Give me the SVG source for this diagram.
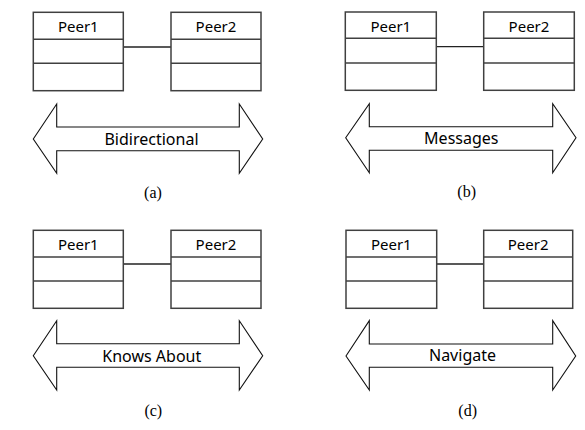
<svg xmlns="http://www.w3.org/2000/svg" width="585" height="430" viewBox="0 0 585 430">
<style>
.box{fill:#fff;stroke:#404040;stroke-width:1.5}
.div{stroke:#404040;stroke-width:1.5}
.link{stroke:#222;stroke-width:1.3;fill:none}
.arrow{fill:#fff;stroke:#111;stroke-width:1.1;stroke-linejoin:miter}
.peer{font-family:"Noto Sans","Open Sans","Liberation Sans",sans-serif;font-size:15px;fill:#000;text-anchor:middle}
.lbl{font-family:"Noto Sans","Open Sans","Liberation Sans",sans-serif;font-size:16px;fill:#000;text-anchor:middle}
.cap{font-family:"Liberation Serif","Times New Roman",serif;font-size:16px;fill:#000;text-anchor:middle}
</style>
<rect width="585" height="430" fill="#fff"/>

<g id="connectors">
<line class="link" x1="123.3" y1="47" x2="171" y2="47"/>
<line class="link" x1="436.3" y1="46.7" x2="483.7" y2="46.7"/>
<line class="link" x1="123.3" y1="264" x2="171" y2="264"/>
<line class="link" x1="436.7" y1="264" x2="483.7" y2="264"/>
</g>

<!-- Panel a -->
<g id="a-peer1">
<rect class="box" x="33.3" y="12.3" width="90" height="78.4"/>
<line class="div" x1="33.3" y1="39.3" x2="123.3" y2="39.3"/>
<line class="div" x1="33.3" y1="63.3" x2="123.3" y2="63.3"/>
<text class="peer" x="78.3" y="32">Peer1</text>
</g>
<g id="a-peer2">
<rect class="box" x="171" y="12.3" width="90" height="78.4"/>
<line class="div" x1="171" y1="39.3" x2="261" y2="39.3"/>
<line class="div" x1="171" y1="63.3" x2="261" y2="63.3"/>
<text class="peer" x="216" y="32">Peer2</text>
</g>
<g id="a-arrow">
<polygon class="arrow" points="33.3,139 56.7,104 56.7,127 239.3,127 239.3,104 262.7,139 239.3,173.3 239.3,150.7 56.7,150.7 56.7,173.3"/>
<text class="lbl" x="151.5" y="145">Bidirectional</text>
</g>
<text class="cap" x="153" y="198">(a)</text>

<!-- Panel b -->
<g id="b-peer1">
<rect class="box" x="345.3" y="12" width="91" height="78.3"/>
<line class="div" x1="345.3" y1="38.3" x2="436.3" y2="38.3"/>
<line class="div" x1="345.3" y1="63" x2="436.3" y2="63"/>
<text class="peer" x="390.8" y="32">Peer1</text>
</g>
<g id="b-peer2">
<rect class="box" x="483.7" y="12" width="90.6" height="78.3"/>
<line class="div" x1="483.7" y1="38.3" x2="574.3" y2="38.3"/>
<line class="div" x1="483.7" y1="63" x2="574.3" y2="63"/>
<text class="peer" x="529" y="32">Peer2</text>
</g>
<g id="b-arrow">
<polygon class="arrow" points="345.7,137.7 369.3,103.7 369.3,126.7 552.7,126.7 552.7,103.7 576,137.7 552.7,172.7 552.7,150.3 369.3,150.3 369.3,172.7"/>
<text class="lbl" x="461.3" y="144">Messages</text>
</g>
<text class="cap" x="466.7" y="197">(b)</text>

<!-- Panel c -->
<g id="c-peer1">
<rect class="box" x="33.3" y="230.3" width="90" height="78"/>
<line class="div" x1="33.3" y1="257" x2="123.3" y2="257"/>
<line class="div" x1="33.3" y1="281" x2="123.3" y2="281"/>
<text class="peer" x="78.3" y="250.3">Peer1</text>
</g>
<g id="c-peer2">
<rect class="box" x="171" y="230.3" width="90" height="78"/>
<line class="div" x1="171" y1="257" x2="261" y2="257"/>
<line class="div" x1="171" y1="281" x2="261" y2="281"/>
<text class="peer" x="216" y="250.3">Peer2</text>
</g>
<g id="c-arrow">
<polygon class="arrow" points="33.3,355.7 56.7,320.7 56.7,343.7 239.3,343.7 239.3,320.7 262.7,355.7 239.3,390 239.3,367.3 56.7,367.3 56.7,390"/>
<text class="lbl" x="151.8" y="361.7">Knows About</text>
</g>
<text class="cap" x="153.3" y="416">(c)</text>

<!-- Panel d -->
<g id="d-peer1">
<rect class="box" x="346" y="230.3" width="90.7" height="78"/>
<line class="div" x1="346" y1="257" x2="436.7" y2="257"/>
<line class="div" x1="346" y1="281" x2="436.7" y2="281"/>
<text class="peer" x="391.3" y="250.3">Peer1</text>
</g>
<g id="d-peer2">
<rect class="box" x="483.7" y="230.3" width="89" height="78"/>
<line class="div" x1="483.7" y1="257" x2="572.7" y2="257"/>
<line class="div" x1="483.7" y1="281" x2="572.7" y2="281"/>
<text class="peer" x="528.2" y="250.3">Peer2</text>
</g>
<g id="d-arrow">
<polygon class="arrow" points="346,356 369.3,320.7 369.3,344 552.7,344 552.7,320.7 575.7,356 552.7,390 552.7,367.3 369.3,367.3 369.3,390"/>
<text class="lbl" x="462.5" y="361">Navigate</text>
</g>
<text class="cap" x="467.7" y="416">(d)</text>
</svg>
